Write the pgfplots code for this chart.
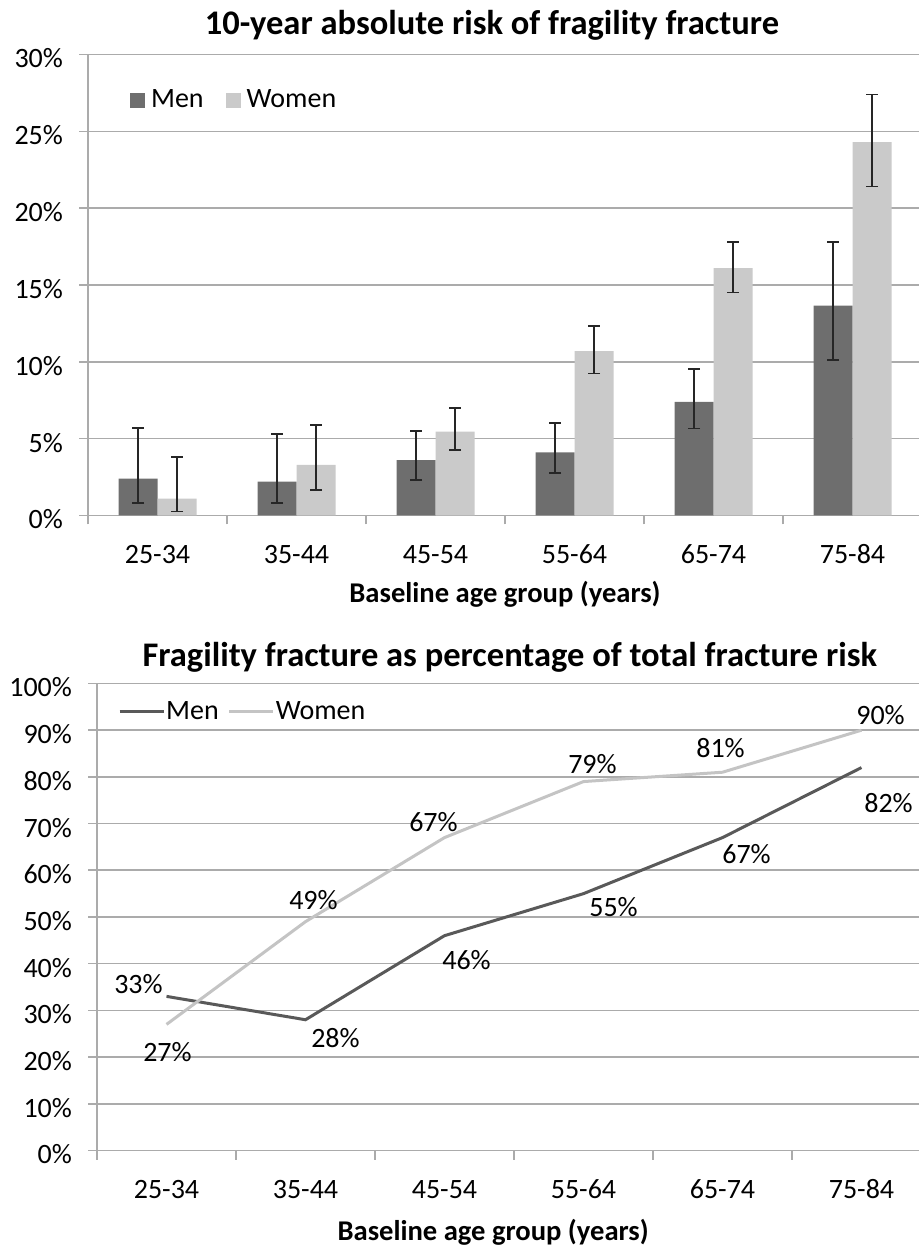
\documentclass[border=0pt]{standalone}
\usepackage{fontspec}
\setmainfont{Carlito}
\usepackage{pgfplots}
\usepackage{pgfplotstable}
\pgfplotsset{compat=1.18}

\definecolor{menbar}{HTML}{6E6E6E}
\definecolor{womenbar}{HTML}{CACACA}
\definecolor{menline}{HTML}{595959}
\definecolor{womenline}{HTML}{C4C4C4}
\definecolor{gridgray}{HTML}{ABABAB}
\definecolor{errcol}{HTML}{262626}

% 10-year absolute risk (%), with upper (ep) and lower (em) error extents
\pgfplotstableread{
x y ep em
0 2.4 3.3 1.6
1 2.2 3.1 1.4
2 3.6 1.9 1.3
3 4.1 1.9 1.35
4 7.4 2.15 1.75
5 13.65 4.15 3.55
}\menrisk
\pgfplotstableread{
x y ep em
0 1.1 2.7 0.85
1 3.3 2.6 1.65
2 5.45 1.55 1.2
3 10.7 1.65 1.45
4 16.1 1.7 1.6
5 24.3 3.1 2.9
}\womenrisk

% Fragility share of total fracture risk (%), label offsets dx, dy in pt
\pgfplotstableread{
x y dx dy
0 33 -14 6
1 28 15 -9
2 46 11 -12
3 55 15 -6.5
4 67 12 -8
5 82 13.5 -17.5
}\menshare
\pgfplotstableread{
x y dx dy
0 27 0.5 -14
1 49 4 11
2 67 -5.5 8
3 79 4.5 8.5
4 81 -1 12
5 90 9.5 7.5
}\womenshare

\pgfplotsset{
  agepanel/.style={
    scale only axis, width=417pt,
    xmin=-0.5, xmax=5.5, enlargelimits=false,
    axis x line*=bottom, axis y line*=left,
    axis line style={gridgray, line width=0.8pt},
    ymajorgrids, grid style={gridgray, line width=0.8pt},
    tick align=outside, major tick length=4.5pt,
    tick style={gridgray, line width=0.8pt},
    xtick={-0.5,0.5,...,5.5}, xticklabels={,,,,,,,},
    extra x ticks={0,1,2,3,4,5},
    extra x tick labels={25-34,35-44,45-54,55-64,65-74,75-84},
    extra x tick style={tick style={draw=none},
      xticklabel style={anchor=center, yshift=-15pt}},
    ticklabel style={font=\fontsize{14}{16}\selectfont, text=black},
    yticklabel style={anchor=east, xshift=-4.5pt, yshift=-2pt},
    title style={font=\bfseries\fontsize{17.25}{20}\selectfont, anchor=center, yshift=-6pt},
    xlabel style={font=\bfseries\fontsize{14.3}{17}\selectfont, anchor=center},
    xlabel={Baseline age group (years)},
    legend style={draw=none, fill=none, inner sep=0pt,
      font=\fontsize{14}{16}\selectfont, legend columns=2,
      legend cell align=left},
  },
  sharelabels/.style={
    point meta=y,
    visualization depends on={\thisrow{dx} \as \dx},
    visualization depends on={\thisrow{dy} \as \dy},
    nodes near coords={\pgfmathprintnumber[assume math mode=true]{\pgfplotspointmeta}\%},
    nodes near coords style={anchor=center, xshift=\dx pt, yshift=\dy pt,
      font=\fontsize{14}{16}\selectfont, text=black},
  },
}

\begin{document}
\begin{tikzpicture}
\useasboundingbox (0,0) rectangle (459.5pt,623pt);

% Upper panel: absolute risk by age group
\begin{axis}[agepanel,
  at={(44pt,365.25pt)}, anchor=south west,
  height=230.5pt, ymin=0, ymax=30,
  ytick={0,5,10,15,20,25,30},
  yticklabels={0\%,5\%,10\%,15\%,20\%,25\%,30\%},
  title={10-year absolute risk of fragility fracture},
  title style={at={(0.4844,1.064)}},
  xlabel style={at={(0.5,-0.172)}},
  ybar=0pt, bar width=19.5pt,
  legend style={at={(0.05,0.901)}, anchor=west,
    nodes={inner xsep=3pt},
    /tikz/every even column/.append style={column sep=8pt}},
  error bars/y dir=both, error bars/y explicit,
  error bars/error bar style={errcol, line width=0.8pt},
  error bars/error mark options={rotate=90, mark size=3pt, errcol, line width=0.8pt},
]
\addplot[fill=menbar, draw=none,
  legend image code/.code={\fill[menbar] (0pt,-3.75pt) rectangle (7.5pt,3.75pt);}]
  table[x=x, y=y, y error plus=ep, y error minus=em]{\menrisk};
\addlegendentry{Men}
\addplot[fill=womenbar, draw=none,
  legend image code/.code={\fill[womenbar] (0pt,-3.75pt) rectangle (7.5pt,3.75pt);}]
  table[x=x, y=y, y error plus=ep, y error minus=em]{\womenrisk};
\addlegendentry{Women}
\end{axis}

% Lower panel: fragility fracture share of total fracture risk
\begin{axis}[agepanel,
  at={(48.5pt,47.75pt)}, anchor=south west,
  height=233.5pt, ymin=0, ymax=100,
  ytick={0,10,...,100},
  yticklabels={0\%,10\%,20\%,30\%,40\%,50\%,60\%,70\%,80\%,90\%,100\%},
  title={Fragility fracture as percentage of total fracture risk},
  title style={at={(0.495,1.0567)}},
  xlabel style={at={(0.475,-0.1745)}},
  legend style={at={(0.025,0.939)}, anchor=west,
    nodes={inner xsep=0.5pt},
    /tikz/every even column/.append style={column sep=4pt}},
  clip=false,
]
\addplot[menline, line width=1.5pt, no markers, sharelabels,
  legend image code/.code={\draw[menline, line width=1.5pt] (0pt,0pt) -- (22pt,0pt);}]
  table[x=x, y=y]{\menshare};
\addlegendentry{Men}
\addplot[womenline, line width=1.5pt, no markers, sharelabels,
  legend image code/.code={\draw[womenline, line width=1.5pt] (0pt,0pt) -- (22pt,0pt);}]
  table[x=x, y=y]{\womenshare};
\addlegendentry{Women}
\end{axis}
\end{tikzpicture}
\end{document}
